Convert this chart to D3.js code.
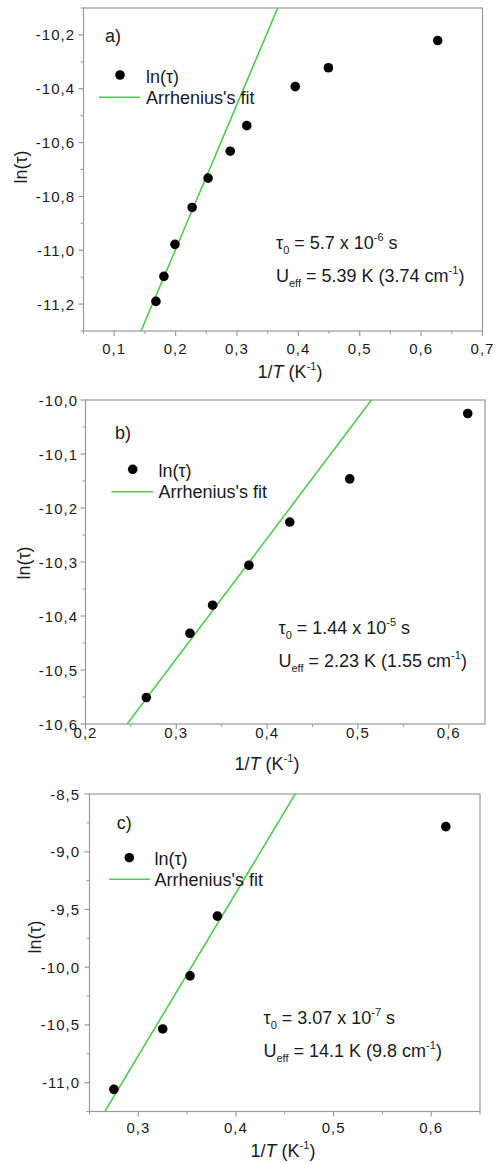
<!DOCTYPE html>
<html>
<head>
<meta charset="utf-8">
<script src="https://cdn.jsdelivr.net/npm/d3@7"></script>
<style>
  html, body { margin: 0; padding: 0; background: #fff; }
  svg { display: block; }
  text { font-family: "Liberation Sans", Arial, sans-serif; fill: #1a1a1a; }
</style>
</head>
<body>
<svg id="chart" width="496" height="1164"></svg>
<script>
// ---- data ----
const panelNames = ["a)", "b)", "c)"];

// panel a: ln(tau) vs 1/T
const invTA = [0.168, 0.181, 0.199, 0.227, 0.253, 0.289, 0.316, 0.395, 0.449, 0.627];
const lnTauA = [-11.190, -11.097, -10.978, -10.841, -10.732, -10.632, -10.537, -10.392, -10.322, -10.221];

// panel b
const invTB = [0.267, 0.315, 0.340, 0.380, 0.425, 0.491, 0.621];
const lnTauB = [-10.551, -10.432, -10.380, -10.306, -10.226, -10.146, -10.025];

// panel c
const invTC = [0.275, 0.325, 0.353, 0.381, 0.615];
const lnTauC = [-11.058, -10.535, -10.075, -9.558, -8.783];

// Arrhenius fit parameters: tau0 (s) and Ueff (K, cm-1)
const tau0Mantissa = ["5.7", "1.44", "3.07"];
const tau0Exponent = [-6, -5, -7];
const ueffK = [5.39, 2.23, 14.1];
const ueffCm = ["3.74", "1.55", "9.8"];

// axis domains and ticks
const xDomains = [[0.05, 0.7], [0.2, 0.64], [0.25, 0.65]];
const yDomains = [[-11.3, -10.1], [-10.6, -10.0], [-11.25, -8.5]];
const xMajor = [[0.1, 0.2, 0.3, 0.4, 0.5, 0.6, 0.7], [0.2, 0.3, 0.4, 0.5, 0.6], [0.3, 0.4, 0.5, 0.6]];
const xMinor = [[0.05, 0.15, 0.25, 0.35, 0.45, 0.55, 0.65], [0.25, 0.35, 0.45, 0.55], [0.25, 0.35, 0.45, 0.55, 0.65]];
const yMajor = [[-11.2, -11.0, -10.8, -10.6, -10.4, -10.2],
                [-10.6, -10.5, -10.4, -10.3, -10.2, -10.1, -10.0],
                [-11.0, -10.5, -10.0, -9.5, -9.0, -8.5]];
const yMinor = [[-11.3, -11.1, -10.9, -10.7, -10.5, -10.3, -10.1],
                [-10.55, -10.45, -10.35, -10.25, -10.15, -10.05],
                [-11.25, -10.75, -10.25, -9.75, -9.25, -8.75]];

const seriesX = [invTA, invTB, invTC];
const seriesY = [lnTauA, lnTauB, lnTauC];

// ---- layout ----
const frames = [
  { left: 83.5, right: 482.5, top: 8,   bottom: 331 },
  { left: 85.5, right: 485,   top: 400, bottom: 724 },
  { left: 89.5, right: 480,   top: 794, bottom: 1111.5 }
];
const decor = [
  { tag: [105, 42], dot: [120, 75], legText: 146, legY1: 82.5, legLine: [99, 140, 97.3], legY2: 104,
    ann: [276, 248.5, 282], ylab: [21, 167], xlab: [290, 378], yTickEnd: 75, xTickBase: 354 },
  { tag: [115, 438.5], dot: [132.7, 469.3], legText: 158.5, legY1: 476.5, legLine: [111.5, 153.3, 491.7], legY2: 497.5,
    ann: [278.5, 633.5, 667], ylab: [23.5, 563], xlab: [267, 770], yTickEnd: 78, xTickBase: 738 },
  { tag: [116.7, 828.5], dot: [129.3, 857.7], legText: 154.5, legY1: 864.5, legLine: [109.3, 150, 879.3], legY2: 886,
    ann: [263.5, 1023.5, 1057], ylab: [35, 937], xlab: [283, 1157], yTickEnd: 80, xTickBase: 1133 }
];

const axisColor = "#9a9a9a";
const fitColor = "#4fcb4f";
const locale = d3.formatLocale({ decimal: ",", thousands: ".", grouping: [3], currency: ["", ""], minus: "-" });
const fmt = locale.format(".1f");

const svg = d3.select("#chart");
svg.append("rect").attr("width", 496).attr("height", 1164).attr("fill", "#fff");

frames.forEach((f, i) => {
  const d = decor[i];
  const x = d3.scaleLinear().domain(xDomains[i]).range([f.left, f.right]);
  const y = d3.scaleLinear().domain(yDomains[i]).range([f.bottom, f.top]);
  const g = svg.append("g");

  const clipId = "clip" + i;
  svg.append("clipPath").attr("id", clipId)
    .append("rect").attr("x", f.left).attr("y", f.top)
    .attr("width", f.right - f.left).attr("height", f.bottom - f.top);

  // frame
  g.append("rect")
    .attr("x", f.left).attr("y", f.top)
    .attr("width", f.right - f.left).attr("height", f.bottom - f.top)
    .attr("fill", "none").attr("stroke", axisColor).attr("stroke-width", 1.2);

  // x ticks
  g.selectAll(".xmaj").data(xMajor[i]).join("line")
    .attr("x1", v => x(v)).attr("x2", v => x(v))
    .attr("y1", f.bottom).attr("y2", f.bottom + 5)
    .attr("stroke", axisColor).attr("stroke-width", 1.2);
  g.selectAll(".xmin").data(xMinor[i]).join("line")
    .attr("x1", v => x(v)).attr("x2", v => x(v))
    .attr("y1", f.bottom).attr("y2", f.bottom + 3)
    .attr("stroke", axisColor).attr("stroke-width", 1);
  g.selectAll(".xlab").data(xMajor[i]).join("text")
    .attr("x", v => x(v)).attr("y", d.xTickBase)
    .attr("text-anchor", "middle")
    .style("font-size", "15px").style("letter-spacing", "1px")
    .text(v => fmt(v));

  // y ticks
  g.selectAll(".ymaj").data(yMajor[i]).join("line")
    .attr("x1", f.left - 5).attr("x2", f.left)
    .attr("y1", v => y(v)).attr("y2", v => y(v))
    .attr("stroke", axisColor).attr("stroke-width", 1.2);
  g.selectAll(".ymin").data(yMinor[i]).join("line")
    .attr("x1", f.left - 3).attr("x2", f.left)
    .attr("y1", v => y(v)).attr("y2", v => y(v))
    .attr("stroke", axisColor).attr("stroke-width", 1);
  g.selectAll(".ylab").data(yMajor[i]).join("text")
    .attr("x", d.yTickEnd).attr("y", v => y(v) + 5.5)
    .attr("text-anchor", "end")
    .style("font-size", "15px").style("letter-spacing", "1px")
    .text(v => fmt(v));

  // Arrhenius fit: ln(tau) = ln(tau0) + Ueff / T
  const lnTau0 = Math.log(+tau0Mantissa[i] * Math.pow(10, tau0Exponent[i]));
  const fitPts = xDomains[i].map(v => [v, lnTau0 + ueffK[i] * v]);
  g.append("path")
    .attr("clip-path", `url(#${clipId})`)
    .attr("d", d3.line().x(p => x(p[0])).y(p => y(p[1]))(fitPts))
    .attr("fill", "none").attr("stroke", fitColor).attr("stroke-width", 1.6);

  // measured points
  g.selectAll(".pt").data(seriesX[i].map((v, k) => [v, seriesY[i][k]])).join("circle")
    .attr("cx", p => x(p[0])).attr("cy", p => y(p[1]))
    .attr("r", 4.8).attr("fill", "#000");

  // panel tag
  g.append("text").attr("x", d.tag[0]).attr("y", d.tag[1])
    .style("font-size", "18px").text(panelNames[i]);

  // legend
  g.append("circle").attr("cx", d.dot[0]).attr("cy", d.dot[1]).attr("r", 4.8).attr("fill", "#000");
  g.append("text").attr("x", d.legText).attr("y", d.legY1)
    .style("font-size", "18px").text("ln(τ)");
  g.append("line")
    .attr("x1", d.legLine[0]).attr("x2", d.legLine[1])
    .attr("y1", d.legLine[2]).attr("y2", d.legLine[2])
    .attr("stroke", fitColor).attr("stroke-width", 1.6);
  g.append("text").attr("x", d.legText).attr("y", d.legY2)
    .style("font-size", "18px").text("Arrhenius's fit");

  // fit parameters
  const t1 = g.append("text").attr("x", d.ann[0]).attr("y", d.ann[1]).style("font-size", "18px");
  t1.append("tspan").text("τ");
  t1.append("tspan").attr("dy", 5).style("font-size", "11px").text("0");
  t1.append("tspan").attr("dy", -5).text(" = " + tau0Mantissa[i] + " x 10");
  t1.append("tspan").attr("dy", -8).style("font-size", "11px").text(String(tau0Exponent[i]));
  t1.append("tspan").attr("dy", 8).text(" s");

  const t2 = g.append("text").attr("x", d.ann[0]).attr("y", d.ann[2]).style("font-size", "18px");
  t2.append("tspan").text("U");
  t2.append("tspan").attr("dy", 5).style("font-size", "11px").text("eff");
  t2.append("tspan").attr("dy", -5).text(" = " + ueffK[i] + " K (" + ueffCm[i] + " cm");
  t2.append("tspan").attr("dy", -8).style("font-size", "11px").text("-1");
  t2.append("tspan").attr("dy", 8).text(")");

  // axis titles
  g.append("text")
    .attr("transform", `translate(${d.ylab[0] + 6},${d.ylab[1]}) rotate(-90)`)
    .attr("text-anchor", "middle").style("font-size", "18px").text("ln(τ)");
  const xl = g.append("text").attr("x", d.xlab[0]).attr("y", d.xlab[1])
    .attr("text-anchor", "middle").style("font-size", "18px");
  xl.append("tspan").text("1/");
  xl.append("tspan").style("font-style", "italic").text("T");
  xl.append("tspan").text(" (K");
  xl.append("tspan").attr("dy", -8).style("font-size", "11px").text("-1");
  xl.append("tspan").attr("dy", 8).text(")");
});
</script>
</body>
</html>
